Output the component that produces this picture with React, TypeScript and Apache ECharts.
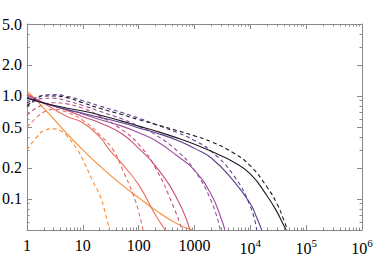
import React, { useEffect, useRef } from "react";
import * as echarts from "echarts";

// tick values
const xMajor = [1, 10, 100, 1000, 10000, 100000, 1000000];
const xMinor = [
  2, 3, 4, 5, 6, 7, 8, 9,
  20, 30, 40, 50, 60, 70, 80, 90,
  200, 300, 400, 500, 600, 700, 800, 900,
  2000, 3000, 4000, 5000, 6000, 7000, 8000, 9000,
  20000, 30000, 40000, 50000, 60000, 70000, 80000, 90000,
  200000, 300000, 400000, 500000, 600000, 700000, 800000, 900000,
];
const yMajor = [0.1, 0.2, 0.5, 1, 2, 5];
const yMajorLabels = ["0.1", "0.2", "0.5", "1.0", "2.0", "5.0"];
const yMinor = [0.06, 0.07, 0.08, 0.09, 0.3, 0.4, 0.6, 0.7, 0.8, 0.9, 3, 4];

// series (solid, dashed pairs), lightest to darkest
const s1 = [[1, 1.12], [1.5, 0.9], [2, 0.76], [3, 0.6], [5, 0.44], [10, 0.3], [20, 0.21], [50, 0.137], [100, 0.103], [200, 0.078], [500, 0.057], [900, 0.05]];
const d1 = [[1, 0.3], [1.5, 0.4], [2, 0.46], [3, 0.48], [4, 0.46], [5, 0.42], [8, 0.3], [10, 0.24], [15, 0.15], [20, 0.11], [25, 0.075], [30, 0.05]];
const s2 = [[1, 1.05], [2, 0.85], [5, 0.64], [10, 0.55], [20, 0.4], [30, 0.3], [50, 0.22], [100, 0.137], [200, 0.07], [300, 0.05]];
const d2 = [[1, 0.5], [1.5, 0.62], [2, 0.7], [3, 0.74], [5, 0.7], [10, 0.58], [20, 0.42], [35, 0.3], [50, 0.2], [80, 0.11], [100, 0.075], [120, 0.05]];
const s3 = [[1, 1.02], [2, 0.86], [5, 0.73], [10, 0.63], [20, 0.55], [50, 0.43], [100, 0.31], [200, 0.21], [500, 0.098], [830, 0.05]];
const d3 = [[1, 0.65], [2, 0.83], [3, 0.86], [5, 0.84], [10, 0.76], [20, 0.64], [50, 0.47], [100, 0.34], [200, 0.2], [400, 0.09], [600, 0.05]];
const s4 = [[1, 0.98], [2, 0.86], [5, 0.74], [10, 0.67], [20, 0.59], [50, 0.51], [100, 0.44], [200, 0.37], [500, 0.26], [1000, 0.19], [2000, 0.11], [3000, 0.065], [3500, 0.05]];
const d4 = [[1, 0.78], [2, 0.95], [3, 0.95], [5, 0.9], [10, 0.81], [20, 0.71], [50, 0.6], [100, 0.51], [200, 0.42], [500, 0.29], [1000, 0.19], [2000, 0.095], [2900, 0.05]];
const s5 = [[1, 0.96], [2, 0.85], [5, 0.74], [10, 0.68], [20, 0.62], [50, 0.55], [100, 0.49], [200, 0.44], [500, 0.37], [1000, 0.31], [2000, 0.25], [5000, 0.15], [10000, 0.09], [13000, 0.066], [16000, 0.05]];
const d5 = [[1, 0.85], [1.5, 0.97], [2, 1.02], [3, 1.03], [5, 1.0], [10, 0.9], [20, 0.8], [50, 0.69], [100, 0.61], [200, 0.53], [500, 0.44], [1000, 0.37], [2000, 0.29], [5000, 0.17], [10000, 0.085], [13000, 0.05]];
const s6 = [[1, 0.95], [2, 0.855], [5, 0.765], [10, 0.715], [20, 0.654], [50, 0.57], [100, 0.51], [200, 0.458], [500, 0.39], [1000, 0.34], [2000, 0.29], [5000, 0.229], [10000, 0.175], [20000, 0.107], [30000, 0.075], [40000, 0.055], [44000, 0.05]];
const d6 = [[1, 0.8], [1.5, 0.95], [2, 1.0], [3, 1.0], [5, 0.97], [10, 0.86], [20, 0.76], [50, 0.66], [100, 0.59], [200, 0.53], [500, 0.46], [1000, 0.41], [2000, 0.36], [5000, 0.28], [10000, 0.21], [20000, 0.13], [30000, 0.09], [40000, 0.062], [46000, 0.05]];

const colors = ["#f98b2e", "#ea6d5e", "#c9507a", "#9a4f9c", "#5e3d8c", "#1e1a24"];
const solids = [s1, s2, s3, s4, s5, s6];
const dashes = [d1, d2, d3, d4, d5, d6];

const FONT = "Liberation Serif";
const FRAME = "#8a8a8a";
const TEXT = "#000";

export default function App() {
  const ref = useRef<HTMLDivElement>(null);
  useEffect(() => {
    if (!ref.current) return;
    const chart = echarts.init(ref.current, undefined, { renderer: "svg" });

    const xBase = (pos: string, ticks: number[], len: number, labels: boolean, line: boolean) => ({
      type: "log",
      logBase: 10,
      min: 1,
      max: 1000000,
      position: pos,
      axisLine: { show: line, lineStyle: { color: FRAME, width: 1 } },
      axisTick: { show: true, inside: true, length: len, customValues: ticks, lineStyle: { color: FRAME, width: 1 } },
      axisLabel: labels
        ? {
            show: true,
            customValues: xMajor,
            margin: 7,
            fontFamily: FONT,
            fontSize: 16,
            color: TEXT,
            formatter: (v: number) => {
              const e = Math.round(Math.log10(v));
              if (e <= 3) return String(Math.round(v));
              return "{b|10}{s|" + e + "}";
            },
            rich: {
              b: { fontFamily: FONT, fontSize: 16, color: TEXT, lineHeight: 19, verticalAlign: "bottom" },
              s: { fontFamily: FONT, fontSize: 11, color: TEXT, lineHeight: 19, verticalAlign: "top" },
            },
          }
        : { show: false },
      splitLine: { show: false },
      minorTick: { show: false },
    });
    const yBase = (pos: string, ticks: number[], len: number, labels: boolean, line: boolean) => ({
      type: "log",
      logBase: 10,
      min: 0.05,
      max: 5,
      position: pos,
      axisLine: { show: line, lineStyle: { color: FRAME, width: 1 } },
      axisTick: { show: true, inside: true, length: len, customValues: ticks, lineStyle: { color: FRAME, width: 1 } },
      axisLabel: labels
        ? {
            show: true,
            customValues: yMajor,
            margin: 5,
            fontFamily: FONT,
            fontSize: 16,
            color: TEXT,
            formatter: (v: number) => {
              const i = yMajor.findIndex((t) => Math.abs(t - v) < 1e-9);
              return i >= 0 ? yMajorLabels[i] : String(v);
            },
          }
        : { show: false },
      splitLine: { show: false },
      minorTick: { show: false },
    });

    const series: any[] = [];
    for (let i = 0; i < 6; i++) {
      series.push({
        type: "line",
        data: solids[i],
        showSymbol: false,
        smooth: 0.5,
        clip: true,
        lineStyle: { color: colors[i], width: 1.1, type: "solid" },
        z: 3,
      });
      series.push({
        type: "line",
        data: dashes[i],
        showSymbol: false,
        smooth: 0.5,
        clip: true,
        lineStyle: { color: colors[i], width: 1.1, type: [4, 3] },
        z: 3,
      });
    }

    chart.setOption({
      animation: false,
      backgroundColor: "#fff",
      grid: { left: 27, right: 12, top: 24, bottom: 26, containLabel: false, outerBoundsMode: "none" },
      xAxis: [
        xBase("bottom", xMajor, 5, true, true),
        xBase("bottom", xMinor, 2.5, false, false),
        xBase("top", xMajor, 5, false, true),
        xBase("top", xMinor, 2.5, false, false),
      ],
      yAxis: [
        yBase("left", yMajor, 5, true, true),
        yBase("left", yMinor, 2.5, false, false),
        yBase("right", yMajor, 5, false, true),
        yBase("right", yMinor, 2.5, false, false),
      ],
      series,
    });
    return () => chart.dispose();
  }, []);
  return <div ref={ref} style={{ width: 374, height: 256, position: "absolute", left: 0, top: 0 }} />;
}
